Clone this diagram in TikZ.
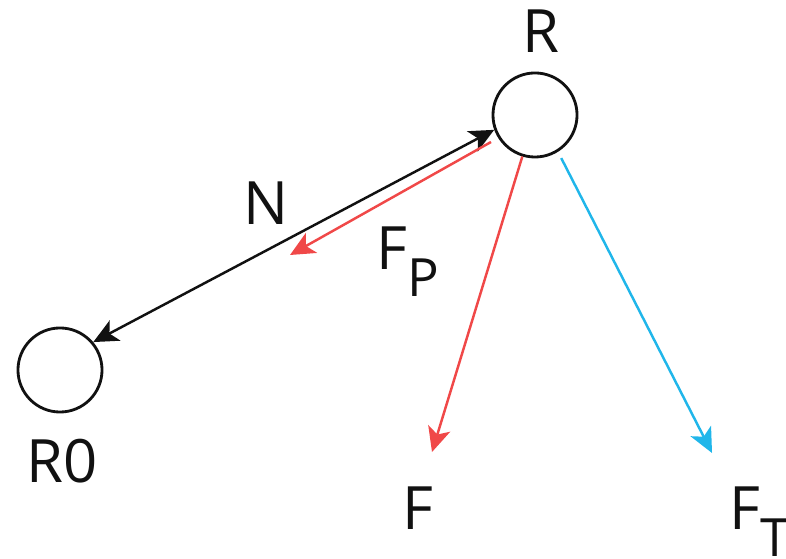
\documentclass[tikz,border=0pt]{standalone}
\usepackage{fontspec}
\setmainfont{Open Sans}
\usepackage{tikz}
\usepackage{xcolor}
\usetikzlibrary{arrows.meta}
\definecolor{ink}{HTML}{111111}
\definecolor{pull}{HTML}{F04848}
\definecolor{tang}{HTML}{20B6EA}
\newcommand{\lowsub}[1]{\raisebox{-7.5pt}{\fontsize{15}{15}\selectfont #1}}

\begin{document}
\begin{tikzpicture}[x=0.01cm,y=-0.01cm,>={Stealth[length=7pt,width=6.5pt,inset=1.8pt]},
  font=\fontsize{17}{20}\selectfont,
  ball/.style={draw=ink,circle,line width=0.8pt,minimum size=0.84cm,inner sep=0pt},
  lbl/.style={inner sep=0pt,text=ink},
  vec/.style={->,line width=0.7pt}]
  \useasboundingbox (0,0) rectangle (786,559);
  \node[ball] (r) at (535,115) {};
  \node[ball] (r0) at (60,370) {};
  \node[lbl,anchor=base] (rlab) at (541,53) {R};
  \node[lbl,anchor=base] (r0lab) at (62,483) {R0};
  \node[lbl,anchor=base] (nlab) at (266,225) {N};
  \node[lbl,anchor=base west] (fplab) at (376,270) {F\lowsub{P}};
  \node[lbl,anchor=base] (flab) at (418,530) {F};
  \node[lbl,anchor=base west] (ftlab) at (729,530) {F\lowsub{T}};
  \coordinate (fp0) at (491,142);
  \coordinate (fp1) at (290,255);
  \coordinate (fend) at (432,452);
  \coordinate (ftend) at (712,453);
  \draw[vec,<->,draw=ink] (r0.40) -- (r.200);
  \draw[vec,draw=pull] (fp0) -- (fp1);
  \draw[vec,draw=pull] (r.-107) -- (fend);
  \draw[vec,draw=tang,shorten <=2pt] (r.-58) -- (ftend);
\end{tikzpicture}
\end{document}
